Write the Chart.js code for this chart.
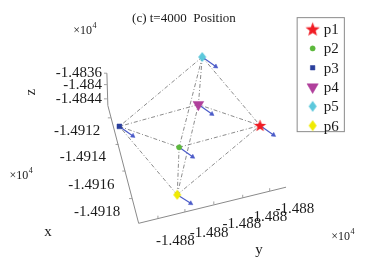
<!DOCTYPE html>
<html>
<head>
<meta charset="utf-8">
<script src="https://cdn.jsdelivr.net/npm/chart.js@4.4.0/dist/chart.umd.min.js"></script>
<style>
html, body { margin: 0; padding: 0; background: #fff; }
#wrap { position: relative; width: 365px; height: 268px; }
</style>
</head>
<body>
<div id="wrap"><canvas id="posChart"></canvas></div>
<script>
const particleNames = ['p1', 'p2', 'p3', 'p4', 'p5', 'p6'];
// particle positions as projected in the 3D view (view units)
const viewX = [263, 179, 117, 199, 203, 177];
const viewY = [125, 148, 126, 103, 53, 198];
// projected velocity arrows
const arrowDX = [14, 14, 14, 14, 14, 14];
const arrowDY = [10, 10, 10, 10, 10, 9];
// octahedron links between particles
const links = [[4, 0], [4, 1], [4, 2], [4, 3], [5, 0], [5, 1], [5, 2], [5, 3], [0, 3], [3, 2], [2, 1], [1, 0]];
const zTickLabels = ['-1.4836', '-1.484', '-1.4844'];
const xTickLabels = ['-1.4912', '-1.4914', '-1.4916', '-1.4918'];
const yTickLabels = ['-1.488', '-1.488', '-1.488', '-1.488', '-1.488'];
const titleText = '(c) t=4000  Position';

const FONT = '"Liberation Serif", "Times New Roman", serif';
const TEXT = '#1a1a1a';

function starImage(r, color) {
    const s = Math.ceil(r * 2 + 2);
    const c = document.createElement('canvas');
    c.width = s; c.height = s;
    const g = c.getContext('2d');
    g.beginPath();
    for (let i = 0; i < 10; i++) {
        const rr = i % 2 ? r * 0.42 : r;
        const a = -Math.PI / 2 + i * Math.PI / 5;
        g.lineTo(s / 2 + rr * Math.cos(a), s / 2 + 0.5 + rr * Math.sin(a));
    }
    g.closePath();
    g.fillStyle = color;
    g.fill();
    return c;
}

function diamondImage(w, h, color) {
    const c = document.createElement('canvas');
    c.width = w + 2; c.height = h + 2;
    const g = c.getContext('2d');
    g.beginPath();
    g.moveTo(c.width / 2, 1);
    g.lineTo(c.width - 1, c.height / 2);
    g.lineTo(c.width / 2, c.height - 1);
    g.lineTo(1, c.height / 2);
    g.closePath();
    g.fillStyle = color;
    g.fill();
    return c;
}

const markerStyles = [
    { pointStyle: starImage(6.5, '#f01c24'), radius: 6, rotation: 0, color: '#f01c24' },
    { pointStyle: 'circle', radius: 2.6, rotation: 0, color: '#5cb83c' },
    { pointStyle: 'rect', radius: 3.4, rotation: 0, color: '#2a3f9c' },
    { pointStyle: 'triangle', radius: 6.2, rotation: 180, color: '#b0409c' },
    { pointStyle: diamondImage(8, 10, '#5cc8dc'), radius: 5, rotation: 0, color: '#5cc8dc' },
    { pointStyle: diamondImage(8, 10, '#f0ea00'), radius: 5, rotation: 0, color: '#f0ea00' }
];
const legendStyles = [
    { pointStyle: starImage(7.5, '#f01c24'), radius: 7, rotation: 0 },
    { pointStyle: 'circle', radius: 2.6, rotation: 0 },
    { pointStyle: 'rect', radius: 3.2, rotation: 0 },
    { pointStyle: 'triangle', radius: 6.5, rotation: 180 },
    { pointStyle: diamondImage(8, 11, '#5cc8dc'), radius: 5, rotation: 0 },
    { pointStyle: diamondImage(8, 11, '#f0ea00'), radius: 5, rotation: 0 }
];

// axis frame of the 3D box
const frameLine = [[104, 70], [105, 104], [137, 228], [290, 190]];
const frameTicks = [
    [[104, 70], [101, 70]], [[104, 82], [101, 82]], [[104, 97], [101, 97]],
    [[108, 117], [105, 117]], [[116, 145], [113, 145]], [[123, 173], [120, 173]], [[130, 202], [127, 202]],
    [[157, 223], [157, 220]], [[185, 216], [185, 213]], [[215, 208], [215, 205]], [[245, 201], [245, 198]], [[273, 194], [273, 191]]
];

const datasets = [];

particleNames.forEach((name, i) => {
    const m = markerStyles[i];
    datasets.push({
        label: name,
        data: [{ x: viewX[i], y: viewY[i] }],
        pointStyle: m.pointStyle,
        pointRadius: m.radius,
        pointRotation: m.rotation,
        pointBackgroundColor: m.color,
        pointBorderColor: m.color,
        pointBorderWidth: 0.5
    });
});

particleNames.forEach((name, i) => {
    const dx = arrowDX[i], dy = arrowDY[i];
    datasets.push({
        label: name + ' velocity',
        data: [{ x: viewX[i], y: viewY[i] }, { x: viewX[i] + dx, y: viewY[i] + dy }],
        showLine: true,
        borderColor: '#4b5bc8',
        borderWidth: 1.2,
        pointStyle: 'triangle',
        pointRadius: [0, 2.6],
        pointRotation: Math.atan2(dx, -dy) * 180 / Math.PI,
        pointBackgroundColor: '#4b5bc8',
        pointBorderColor: '#4b5bc8',
        pointBorderWidth: 0.5
    });
});

links.forEach(([a, b]) => {
    datasets.push({
        label: 'link',
        data: [{ x: viewX[a], y: viewY[a] }, { x: viewX[b], y: viewY[b] }],
        showLine: true,
        borderColor: '#6e6e6e',
        borderWidth: 0.8,
        borderDash: [4, 2, 1, 2],
        pointRadius: 0
    });
});

datasets.push({
    label: 'frame',
    data: frameLine.map(p => ({ x: p[0], y: p[1] })),
    showLine: true,
    borderColor: '#8a8a8a',
    borderWidth: 1,
    pointRadius: 0
});
frameTicks.forEach(t => {
    datasets.push({
        label: 'tick',
        data: t.map(p => ({ x: p[0], y: p[1] })),
        showLine: true,
        borderColor: '#8a8a8a',
        borderWidth: 0.8,
        pointRadius: 0
    });
});

function drawTimes10(ctx, x, y) {
    ctx.textAlign = 'left';
    ctx.textBaseline = 'middle';
    ctx.font = '12px ' + FONT;
    ctx.fillText('\u00d710', x, y);
    const w = ctx.measureText('\u00d710').width;
    ctx.font = '8px ' + FONT;
    ctx.fillText('4', x + w + 0.5, y - 5);
}

const textPlugin = {
    id: 'viewText',
    afterDraw(chart) {
        const ctx = chart.ctx;
        const sx = chart.scales.x, sy = chart.scales.y;
        const px = v => sx.getPixelForValue(v);
        const py = v => sy.getPixelForValue(v);
        ctx.save();
        ctx.fillStyle = TEXT;

        ctx.font = '13px ' + FONT;
        ctx.textAlign = 'center';
        ctx.textBaseline = 'middle';
        ctx.fillText(titleText, px(184), py(12));

        ctx.font = '15px ' + FONT;
        ctx.textAlign = 'right';
        const zPos = [[99, 70], [99, 82], [99, 97]];
        zTickLabels.forEach((t, i) => ctx.fillText(t, px(zPos[i][0]), py(zPos[i][1])));
        const xPos = [[97, 131], [103, 158], [112, 188], [118, 216]];
        xTickLabels.forEach((t, i) => ctx.fillText(t, px(xPos[i][0]), py(xPos[i][1])));
        ctx.textAlign = 'left';
        const yPos = [[155, 247], [190, 238], [224, 229], [251, 221], [279, 213]];
        yTickLabels.forEach((t, i) => ctx.fillText(t, px(yPos[i][0]), py(yPos[i][1])));

        ctx.font = '15px ' + FONT;
        ctx.textAlign = 'center';
        ctx.fillText('x', px(43), py(237));
        ctx.fillText('y', px(262), py(256));
        ctx.save();
        ctx.translate(px(25), py(90));
        ctx.rotate(-Math.PI / 2);
        ctx.fillText('z', 0, 0);
        ctx.restore();

        drawTimes10(ctx, px(69), py(25));
        drawTimes10(ctx, px(3), py(178));
        drawTimes10(ctx, px(337), py(242));

        // legend box
        const bx = px(301), by = py(11), bw = px(350) - bx, bh = py(131) - by;
        ctx.strokeStyle = '#8a8a8a';
        ctx.lineWidth = 1;
        ctx.fillStyle = '#fff';
        ctx.fillRect(bx + 0.5, by + 0.5, bw, bh);
        ctx.strokeRect(bx + 0.5, by + 0.5, bw, bh);
        particleNames.forEach((name, i) => {
            const yy = by + 12 + i * 19.3;
            const st = legendStyles[i];
            ctx.fillStyle = markerStyles[i].color;
            ctx.strokeStyle = markerStyles[i].color;
            ctx.lineWidth = 0.5;
            Chart.helpers.drawPoint(ctx, { pointStyle: st.pointStyle, radius: st.radius, rotation: st.rotation, borderWidth: 0.5 }, bx + 16, yy);
            ctx.fillStyle = TEXT;
            ctx.font = '15px ' + FONT;
            ctx.textAlign = 'left';
            ctx.textBaseline = 'middle';
            ctx.fillText(name, bx + 27, yy + 1);
        });
        ctx.restore();
    }
};

new Chart(document.getElementById('posChart').getContext('2d'), {
    type: 'scatter',
    data: { datasets: datasets },
    options: {
        responsive: true,
        maintainAspectRatio: false,
        animation: false,
        events: [],
        layout: { padding: 0 },
        scales: {
            x: { type: 'linear', min: 0, max: 365, display: false },
            y: { type: 'linear', min: 0, max: 268, reverse: true, display: false }
        },
        plugins: {
            legend: { display: false },
            tooltip: { enabled: false }
        }
    },
    plugins: [textPlugin]
});
</script>
</body>
</html>
